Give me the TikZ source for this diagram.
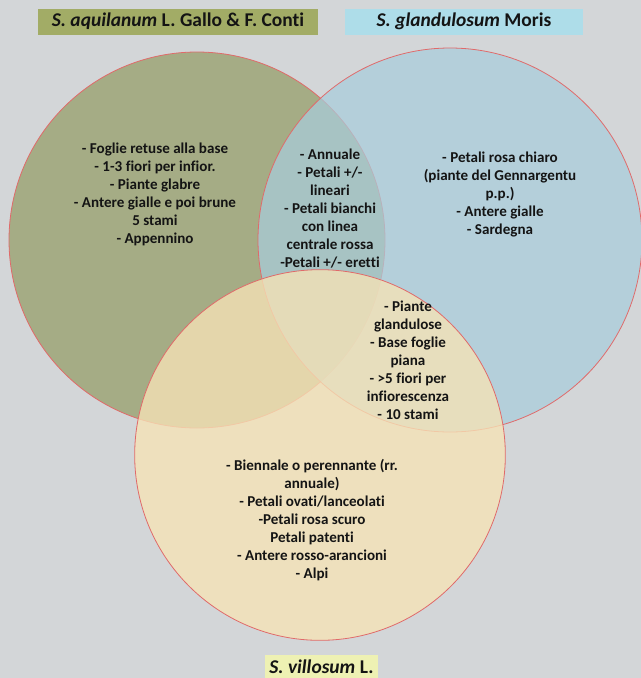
\documentclass[tikz,border=0pt]{standalone}
\usepackage{fontspec}
\setmainfont{Carlito}[Ligatures=NoCommon]
\definecolor{bggray}{HTML}{D3D6D8}
\definecolor{aquigreen}{HTML}{A5AC85}
\definecolor{glandblue}{HTML}{A9CDDB}
\definecolor{villyellow}{HTML}{F6E3B6}
\definecolor{rimred}{HTML}{E06A6A}
\definecolor{tagolive}{HTML}{A2AC66}
\definecolor{tagblue}{HTML}{AEDDE9}
\definecolor{tagyellow}{HTML}{EEF1B3}
\begin{document}
\begin{tikzpicture}[x=0.75pt,y=-0.75pt]
            \tikzstyle{every node}+=[inner sep=0pt]
            \tikzset{rim/.style={draw=rimred, line width=0.6pt},
                     facts/.style={align=center, font=\bfseries\fontsize{11.3}{13.5}\selectfont, text=black!92},
                     tag/.style={minimum height=19.5pt, font=\bfseries\fontsize{14.6}{16}\selectfont, text=black!92}}
            \fill [bggray] (0,0) rectangle (641,678);
            \useasboundingbox (0,0) rectangle (641,678);
            \draw [rim, fill=aquigreen] (197,240) circle [radius=141pt];
            \draw [rim, fill=glandblue, fill opacity=0.72] (450,240) circle [radius=144pt];
            \draw [rim, fill=villyellow, fill opacity=0.78] (320,455) circle [radius=139pt];
            \node [tag, fill=tagolive, minimum width=210pt] (aqui) at (178,21.5) {\textit{S. aquilanum} L. Gallo \& F. Conti};
            \node [tag, fill=tagblue, minimum width=178.5pt] (gland) at (464,21.5) {\textit{S. glandulosum} Moris};
            \node [tag, fill=tagyellow, minimum width=84.75pt, minimum height=17pt] (vill) at (321.5,666.5) {\textit{S. villosum} L.};
            \node [facts] (onlyaqui) at (155,194.5) {- Foglie retuse alla base\\- 1-3 fiori per infior.\\- Piante glabre\\- Antere gialle e poi brune\\5 stami\\- Appennino};
            \node [facts] (aquigland) at (330,209) {- Annuale\\- Petali +/-\\lineari\\- Petali bianchi\\con linea\\centrale rossa\\-Petali +/- eretti};
            \node [facts] (onlygland) at (500,194) {- Petali rosa chiaro\\(piante del Gennargentu\\p.p.)\\- Antere gialle\\- Sardegna};
            \node [facts] (glandvill) at (408,360.5) {- Piante\\glandulose\\- Base foglie\\piana\\- >5 fiori per\\infiorescenza\\- 10 stami};
            \node [facts] (onlyvill) at (312,520.5) {- Biennale o perennante (rr.\\annuale)\\- Petali ovati/lanceolati\\-Petali rosa scuro\\Petali patenti\\- Antere rosso-arancioni\\- Alpi};
        \end{tikzpicture}
\end{document}
